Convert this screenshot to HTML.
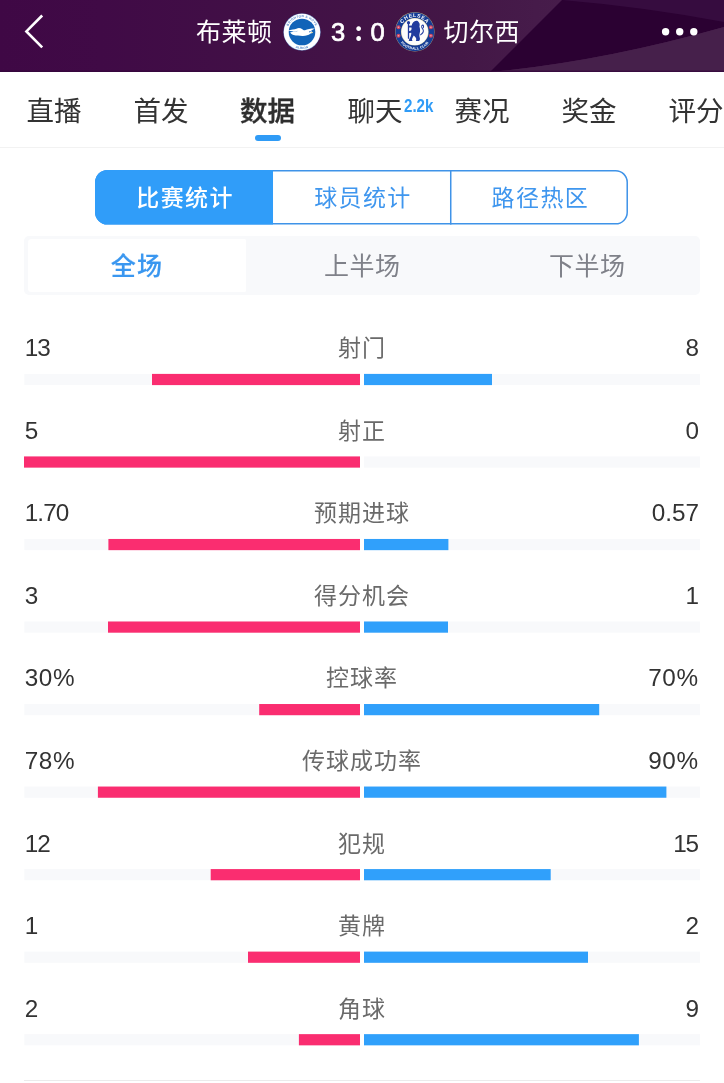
<!DOCTYPE html>
<html lang="zh-CN">
<head>
<meta charset="utf-8">
<title>布莱顿 3:0 切尔西 - 数据</title>
<style>
*{box-sizing:border-box;margin:0;padding:0}
html,body{width:724px;height:1083px;overflow:hidden;background:#fff}
body{position:relative;font-family:"Liberation Sans","Noto Sans CJK SC",sans-serif;color:#333;-webkit-font-smoothing:antialiased}
.abs{position:absolute}
/* header */
#hdr{position:absolute;left:0;top:0;width:724px;height:72px;background:#400a46;overflow:hidden}
#hdr svg.bg{position:absolute;left:0;top:0}
.team{position:absolute;top:14px;height:36px;line-height:36px;font-size:25px;letter-spacing:.5px;color:#fff;white-space:nowrap;font-weight:400}
#score{position:absolute;top:13.5px;height:36px;line-height:36px;font-size:25.6px;color:#fff;font-weight:400;-webkit-text-stroke:.7px #fff;white-space:nowrap;word-spacing:2.2px}
/* tabs */
#tabs{position:absolute;left:0;top:72px;width:724px;height:76px;border-bottom:1px solid #f2f2f2;background:#fff}
.tab{position:absolute;top:22px;height:36px;line-height:36px;font-size:27.5px;color:#333;white-space:nowrap}
.tab.on{font-weight:500;color:#2e2e2e;-webkit-text-stroke:.35px #2e2e2e}
#ul{position:absolute;left:255px;top:62.5px;width:26px;height:6px;border-radius:3px;background:#2f9bf6}
#badge{position:absolute;left:404px;top:24px;font-size:18px;line-height:20px;color:#2f9bf6;font-weight:700;transform-origin:0 50%;transform:scaleX(.84);white-space:nowrap}
/* segmented */
#seg{position:absolute;left:95.4px;top:170px;width:533px;height:54.6px}
#seg svg{position:absolute;left:0;top:0}
#seg div{position:absolute;top:0;height:54.6px;line-height:57.4px;text-align:center;font-size:23px;letter-spacing:1.4px;padding-left:1.4px;color:#3f96ee;white-space:nowrap}
#seg .s1{left:0;width:178px;color:#fff;font-weight:500}
#seg .s2{left:178px;width:177.7px}
#seg .s3{left:355.7px;width:177.3px}
/* sub tabs */
#sub{position:absolute;left:24.4px;top:236px;width:675.7px;height:58.8px;border-radius:5px;background:#f8f9fb}
#sub .pill{position:absolute;left:3.4px;top:3.2px;width:217.8px;height:52.4px;border-radius:3.5px 1.5px 1.5px 3.5px;background:#fff}
#sub div.t{position:absolute;top:0;height:58.8px;line-height:61px;letter-spacing:.5px;width:225.2px;text-align:center;font-size:25px;color:#7f8189;white-space:nowrap}
#sub div.t.on{color:#3a97f0;font-weight:500;letter-spacing:1.3px;-webkit-text-stroke:.2px #3a97f0}
/* stats */
#bars{position:absolute;left:0;top:0}
.row{position:absolute;left:0;width:724px;height:40px}
.row .l,.row .r,.row .c{position:absolute;top:0;height:36px;line-height:36px;white-space:nowrap}
.row .l{left:24.7px;font-size:24.3px;color:#333}
.row .r{right:25px;font-size:24.3px;color:#333;text-align:right}
.row.p .l,.row.p .r{letter-spacing:.6px}
.row.p .r{right:25.4px}
.row .c{left:0;width:724px;top:0;text-align:center;font-size:23px;letter-spacing:1px;color:#6a6a6a}
#foot{position:absolute;left:24px;top:1080px;width:676px;height:1px;background:#ebebeb}
</style>
</head>
<body>
<div id="hdr">
<svg class="bg" width="724" height="72" viewBox="0 0 724 72">
<defs><linearGradient id="hg" x1="0" y1="0" x2="1" y2="0"><stop offset="0" stop-color="#3f0845"/><stop offset=".14" stop-color="#400a46"/><stop offset=".48" stop-color="#421346"/><stop offset=".635" stop-color="#431746"/><stop offset=".74" stop-color="#461b4a"/><stop offset=".8" stop-color="#471d4b"/></linearGradient></defs>
<rect width="724" height="72" fill="url(#hg)"/>
<path d="M490 72 L562 0 L724 0 L724 27 Q600 62 490 72 Z" fill="#2b0132"/>
<path d="M490 72 Q600 62 724 27 L724 72 Z" fill="#46204b"/>
<path d="M562 0 Q645 7 724 22 L724 0 Z" fill="#360c3f"/>

<rect x="0" y="70.6" width="724" height="1.4" fill="#33053b" opacity=".75"/>
<!-- Brighton crest -->
<g transform="translate(302 32)">
<circle r="18.6" fill="#6d8fc8"/>
<circle r="18.2" fill="#fdfeff"/>
<circle r="13.3" fill="#1163b8"/>
<path id="bt" d="M-14.9 0 A14.9 14.9 0 0 1 14.9 0" fill="none"/>
<path id="bb" d="M-16.9 0 A16.9 16.9 0 0 0 16.9 0" fill="none"/>
<text font-family="Liberation Sans,sans-serif" font-weight="700" font-size="3.1" fill="#4a82c6" text-anchor="middle" letter-spacing=".35"><textPath href="#bt" startOffset="50%">BRIGHTON &amp; HOVE</textPath></text>
<text font-family="Liberation Sans,sans-serif" font-weight="700" font-size="3" fill="#4a82c6" text-anchor="middle" letter-spacing=".3"><textPath href="#bb" startOffset="50%">ALBION</textPath></text>
<path d="M-14.6 -1.7 C-10.5 -2.3 -7.5 -2.6 -5.6 -3.3 C-4 -4.3 -1.6 -4.3 0 -3 C1 -2.2 1.8 -1.6 3 -1.7 C5.6 -2.8 9 -3.5 13 -3.4 C11.2 -2.7 9.8 -1.9 8.9 -1 C9.8 -0.6 10.5 0 11 0.9 C9.9 0.8 9 1.1 8.2 1.8 C6.6 3.2 3.6 4 0.4 3.9 C-2.6 3.8 -5.6 3.8 -8.4 3 C-10.4 2.4 -11.6 1.4 -11.8 0.2 C-10.6 0.3 -9.4 0 -8.4 -0.5 C-10.4 -0.9 -12.6 -1.2 -14.6 -1.7 Z" fill="#fff"/>
<path d="M-12 -0.9 C-9 -0.7 -6 -0.8 -3.6 -1.3 C-5.6 -0.3 -8.6 -0.1 -12 -0.9 Z" fill="#3b7fc8"/>
<path d="M7 -0.6 C8 -0.9 8.8 -0.9 9.4 -0.4 C8.6 -0.1 7.8 0.1 7 0.6 Z" fill="#2c6fbe"/>
<path d="M9.3 .2 C10 .3 10.6 .6 11 1 C10.3 .9 9.6 1 9.1 1.2 Z" fill="#e8cf4e"/>
</g>
<!-- Chelsea crest -->
<g transform="translate(414.8 31.8)">
<circle r="19.7" fill="#b7a77c"/>
<circle r="19.35" fill="#153d96"/>
<circle r="13.8" fill="#d9cfa6"/>
<circle r="13.3" fill="#fdfdfb"/>
<path id="ct" d="M-14.7 0 A14.7 14.7 0 0 1 14.7 0" fill="none"/>
<path id="cb" d="M-17.8 0 A17.8 17.8 0 0 0 17.8 0" fill="none"/>
<text font-family="Liberation Sans,sans-serif" font-weight="700" font-size="5.2" fill="#fff" text-anchor="middle" letter-spacing=".6"><textPath href="#ct" startOffset="50%">CHELSEA</textPath></text>
<text font-family="Liberation Sans,sans-serif" font-weight="700" font-size="3.5" fill="#fff" text-anchor="middle" letter-spacing=".2"><textPath href="#cb" startOffset="50%">FOOTBALL CLUB</textPath></text>
<g fill="#d0455f"><circle cx="-16.3" cy="-4.6" r="2"/><circle cx="-16.3" cy="3.9" r="2"/><circle cx="16.1" cy="-4.6" r="2"/><circle cx="16.1" cy="3.9" r="2"/></g>
<g fill="#f0a9b5"><circle cx="-16.3" cy="-4.6" r=".8"/><circle cx="-16.3" cy="3.9" r=".8"/><circle cx="16.1" cy="-4.6" r=".8"/><circle cx="16.1" cy="3.9" r=".8"/></g>
<g fill="#213c9e">
<circle cx="-6.3" cy="-9.1" r="1.6"/>
<rect x="-6.95" y="-8.6" width="1.3" height="15.6" rx=".5"/>
<path d="M-0.6 -10.2 C0.8 -11.6 3 -11.4 3.8 -9.8 C5 -8.6 5.2 -6.8 4.6 -5.4 C5.4 -3.4 5.6 -0.6 4.8 1.6 C4.4 3.2 4.6 4.6 5 6 C5.4 7.4 5 8.6 4.2 9.3 L1 9.3 C1.6 8.2 1.6 7 1 6 C0.4 5 -0.4 4.4 -1 3.6 C-1.8 4.8 -2.6 6.2 -2.8 7.6 C-2.9 8.4 -2.6 8.9 -2 9.3 L-6 9.3 C-6 7.8 -5.2 6.4 -4.4 5.2 C-3.6 3.8 -3.4 2.2 -3.6 1 L-6.6 1.4 L-6.8 -0.4 L-3.8 -1.4 C-3.2 -2.6 -3 -3.6 -3.4 -4.4 L-6.6 -4.4 L-6.6 -6 L-3 -6.4 C-2.8 -7.6 -2 -9.4 -0.6 -10.2 Z"/>
<path d="M5.3 2.6 C7 1.6 8.4 0 8 -1.6 C7.6 -3 6.2 -3.8 6.4 -5.4 C6.6 -6.8 7.6 -7.6 8.6 -7 C9.6 -6.2 9.4 -4.4 8.6 -3.4 L8 -4.2 C8.4 -5 8.4 -5.8 7.8 -6 C7.2 -6 7.2 -5 7.6 -4.2 C8.4 -3 9.4 -1.6 9 0 C8.6 1.8 7 3.2 5.6 3.6 Z"/>
</g>
</g>
<path d="M42.2 15.5 L26.4 31.4 L42.2 47.3" fill="none" stroke="#fff" stroke-width="2.6" stroke-linecap="butt" stroke-linejoin="miter"/>
<circle cx="665.6" cy="31.8" r="3.7" fill="#fff"/><circle cx="679.7" cy="31.8" r="3.7" fill="#fff"/><circle cx="693.8" cy="31.8" r="3.7" fill="#fff"/>
</svg>
<div class="team" style="left:196px">布莱顿</div>
<div id="score" style="left:331px">3 <span style="font-family:'Noto Sans CJK SC',sans-serif;font-weight:700;-webkit-text-stroke:0;line-height:0;margin-right:-1.7px">:</span> 0</div>
<div class="team" style="left:443.5px">切尔西</div>
</div>

<div id="tabs">
<div class="tab" style="left:26.5px">直播</div>
<div class="tab" style="left:133.6px">首发</div>
<div class="tab on" style="left:240px">数据</div>
<div class="tab" style="left:347.5px">聊天</div>
<div id="badge">2.2k</div>
<div class="tab" style="left:454.5px">赛况</div>
<div class="tab" style="left:561.5px">奖金</div>
<div class="tab" style="left:668.5px">评分</div>
<div id="ul"></div>
</div>

<div id="seg">
<svg width="533" height="54.6" viewBox="0 0 533 54.6">
<rect x=".75" y=".75" width="531.5" height="53.1" rx="11.6" fill="#fff" stroke="#3f93e8" stroke-width="1.5"/>
<path d="M12.3 0 H178 V54.6 H12.3 A12.3 12.3 0 0 1 0 42.3 V12.3 A12.3 12.3 0 0 1 12.3 0 Z" fill="#309df9"/>
<rect x="355" y="0" width="1.5" height="54.6" fill="#3f93e8"/>
</svg>
<div class="s1">比赛统计</div>
<div class="s2">球员统计</div>
<div class="s3">路径热区</div>
</div>

<div id="sub">
<div class="pill"></div>
<div class="t on" style="left:0">全场</div>
<div class="t" style="left:225.2px">上半场</div>
<div class="t" style="left:450.4px">下半场</div>
</div>

<svg id="bars" width="724" height="1083" viewBox="0 0 724 1083">
<rect x="24.3" y="373.90" width="335.7" height="11.2" fill="#f8f9fb"/><rect x="364" y="373.90" width="336.1" height="11.2" fill="#f8f9fb"/><rect x="152.0" y="373.90" width="208.0" height="11.2" fill="#fa2d70"/><rect x="364" y="373.90" width="128.0" height="11.2" fill="#30a0fb"/>
<rect x="24.3" y="456.43" width="335.7" height="11.2" fill="#f8f9fb"/><rect x="364" y="456.43" width="336.1" height="11.2" fill="#f8f9fb"/><rect x="24.0" y="456.43" width="336.0" height="11.2" fill="#fa2d70"/>
<rect x="24.3" y="538.96" width="335.7" height="11.2" fill="#f8f9fb"/><rect x="364" y="538.96" width="336.1" height="11.2" fill="#f8f9fb"/><rect x="108.4" y="538.96" width="251.6" height="11.2" fill="#fa2d70"/><rect x="364" y="538.96" width="84.4" height="11.2" fill="#30a0fb"/>
<rect x="24.3" y="621.49" width="335.7" height="11.2" fill="#f8f9fb"/><rect x="364" y="621.49" width="336.1" height="11.2" fill="#f8f9fb"/><rect x="108.0" y="621.49" width="252.0" height="11.2" fill="#fa2d70"/><rect x="364" y="621.49" width="84.0" height="11.2" fill="#30a0fb"/>
<rect x="24.3" y="704.02" width="335.7" height="11.2" fill="#f8f9fb"/><rect x="364" y="704.02" width="336.1" height="11.2" fill="#f8f9fb"/><rect x="259.2" y="704.02" width="100.8" height="11.2" fill="#fa2d70"/><rect x="364" y="704.02" width="235.2" height="11.2" fill="#30a0fb"/>
<rect x="24.3" y="786.55" width="335.7" height="11.2" fill="#f8f9fb"/><rect x="364" y="786.55" width="336.1" height="11.2" fill="#f8f9fb"/><rect x="97.9" y="786.55" width="262.1" height="11.2" fill="#fa2d70"/><rect x="364" y="786.55" width="302.4" height="11.2" fill="#30a0fb"/>
<rect x="24.3" y="869.08" width="335.7" height="11.2" fill="#f8f9fb"/><rect x="364" y="869.08" width="336.1" height="11.2" fill="#f8f9fb"/><rect x="210.7" y="869.08" width="149.3" height="11.2" fill="#fa2d70"/><rect x="364" y="869.08" width="186.7" height="11.2" fill="#30a0fb"/>
<rect x="24.3" y="951.61" width="335.7" height="11.2" fill="#f8f9fb"/><rect x="364" y="951.61" width="336.1" height="11.2" fill="#f8f9fb"/><rect x="248.0" y="951.61" width="112.0" height="11.2" fill="#fa2d70"/><rect x="364" y="951.61" width="224.0" height="11.2" fill="#30a0fb"/>
<rect x="24.3" y="1034.14" width="335.7" height="11.2" fill="#f8f9fb"/><rect x="364" y="1034.14" width="336.1" height="11.2" fill="#f8f9fb"/><rect x="298.9" y="1034.14" width="61.1" height="11.2" fill="#fa2d70"/><rect x="364" y="1034.14" width="274.9" height="11.2" fill="#30a0fb"/>
</svg>
<div class="row" style="top:330.00px"><div class="l" style="letter-spacing:-1px">13</div><div class="c">射门</div><div class="r">8</div></div>
<div class="row" style="top:412.60px"><div class="l">5</div><div class="c">射正</div><div class="r">0</div></div>
<div class="row" style="top:495.20px"><div class="l" style="letter-spacing:-.9px">1.70</div><div class="c">预期进球</div><div class="r">0.57</div></div>
<div class="row" style="top:577.80px"><div class="l">3</div><div class="c">得分机会</div><div class="r">1</div></div>
<div class="row p" style="top:660.40px"><div class="l">30%</div><div class="c">控球率</div><div class="r">70%</div></div>
<div class="row p" style="top:743.00px"><div class="l">78%</div><div class="c">传球成功率</div><div class="r">90%</div></div>
<div class="row" style="top:825.60px"><div class="l" style="letter-spacing:-1px">12</div><div class="c">犯规</div><div class="r" style="letter-spacing:-1.2px;right:26.2px">15</div></div>
<div class="row" style="top:908.20px"><div class="l">1</div><div class="c">黄牌</div><div class="r">2</div></div>
<div class="row" style="top:990.80px"><div class="l">2</div><div class="c">角球</div><div class="r">9</div></div>
<div id="foot"></div>
</body>
</html>
